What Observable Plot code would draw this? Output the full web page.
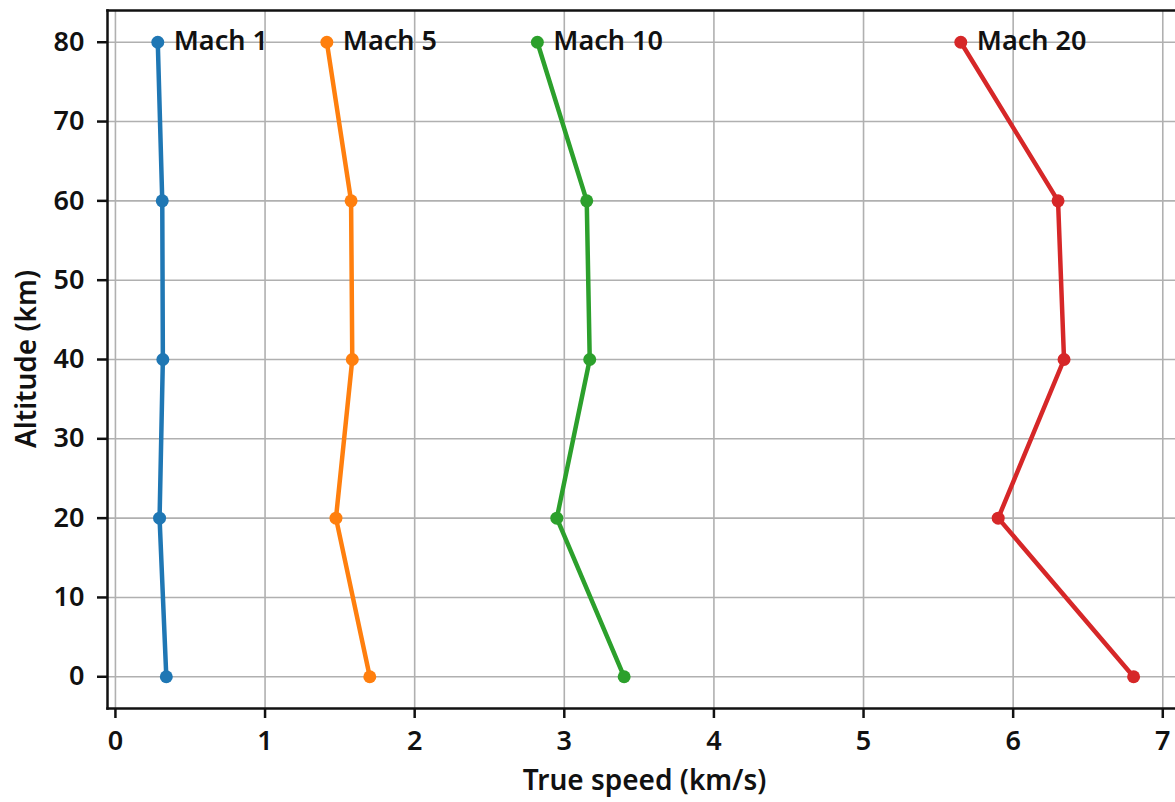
<!DOCTYPE html>
<html>
<head>
<meta charset="utf-8">
<script src="https://cdn.jsdelivr.net/npm/d3@7"></script>
<script src="https://cdn.jsdelivr.net/npm/@observablehq/plot@0.6"></script>
<style>
  html, body { margin: 0; padding: 0; background: #fff; overflow: hidden; }
  #chart svg { display: block; }
</style>
</head>
<body>
<div id="chart"></div>
<script>
const altitudes = [0, 20, 40, 60, 80];
const seriesNames = ["Mach 1", "Mach 5", "Mach 10", "Mach 20"];
const mach1 = [0.340, 0.295, 0.317, 0.313, 0.283];
const mach5 = [1.700, 1.474, 1.583, 1.575, 1.413];
const mach10 = [3.400, 2.950, 3.170, 3.150, 2.820];
const mach20 = [6.805, 5.900, 6.340, 6.300, 5.650];
const seriesColors = ["#1f77b4", "#ff7f0e", "#2ca02c", "#d62728"];
const xTicks = [0, 1, 2, 3, 4, 5, 6, 7];
const yTicks = [0, 10, 20, 30, 40, 50, 60, 70, 80];

const speeds = [mach1, mach5, mach10, mach20];
const data = [];
seriesNames.forEach((name, i) => {
  altitudes.forEach((alt, j) => data.push({series: name, altitude: alt, speed: speeds[i][j]}));
});
const labels = data.filter(d => d.altitude === d3.max(altitudes));

const font = "'Noto Sans', 'Open Sans', sans-serif";
const fs = 27;

const chart = Plot.plot({
  width: 1175,
  height: 802,
  marginLeft: 107,
  marginRight: 0,
  marginTop: 10,
  marginBottom: 94,
  style: {fontFamily: font, fontSize: fs + "px", fontWeight: 600, color: "#111", background: "#fff"},
  x: {domain: [-0.053, 7.085], label: null},
  y: {domain: [-4, 84], label: null},
  color: {domain: seriesNames, range: seriesColors},
  marks: [
    Plot.gridX(xTicks, {stroke: "#b0b0b0", strokeOpacity: 1, strokeWidth: 1.6}),
    Plot.gridY(yTicks, {stroke: "#b0b0b0", strokeOpacity: 1, strokeWidth: 1.6}),
    Plot.frame({anchor: "left", stroke: "#111", strokeWidth: 2.5}),
    Plot.frame({anchor: "top", stroke: "#111", strokeWidth: 2.5}),
    Plot.frame({anchor: "bottom", stroke: "#111", strokeWidth: 2.5}),
    Plot.axisX(xTicks, {tickSize: 10, tickPadding: 12, strokeWidth: 2.5, stroke: "#111", fontSize: fs, fontWeight: 600, label: null, tickFormat: d3.format("d")}),
    Plot.axisY(yTicks, {tickSize: 10, tickPadding: 13, strokeWidth: 2.5, stroke: "#111", fontSize: fs, fontWeight: 600, label: null, tickFormat: d3.format("d")}),
    Plot.line(data, {x: "speed", y: "altitude", z: "series", stroke: "series", strokeWidth: 4.5}),
    Plot.dot(data, {x: "speed", y: "altitude", fill: "series", r: 6.5}),
    Plot.text(labels, {x: "speed", y: "altitude", text: "series", dx: 16, dy: -1, textAnchor: "start", fontSize: fs, fontWeight: 600, fill: "#111"})
  ]
});

const svg = d3.select(chart);
// axis titles as real text
svg.append("text")
  .attr("x", 107 + (1182 - 107) / 2)
  .attr("y", 790)
  .attr("text-anchor", "middle")
  .attr("font-family", font)
  .attr("font-size", 28)
  .attr("font-weight", 600)
  .attr("fill", "#111")
  .text("True speed (km/s)");
svg.append("text")
  .attr("transform", `translate(36, ${(10 + 708) / 2}) rotate(-90)`)
  .attr("text-anchor", "middle")
  .attr("font-family", font)
  .attr("font-size", 28)
  .attr("font-weight", 600)
  .attr("fill", "#111")
  .text("Altitude (km)");

document.getElementById("chart").appendChild(chart);
</script>
</body>
</html>
